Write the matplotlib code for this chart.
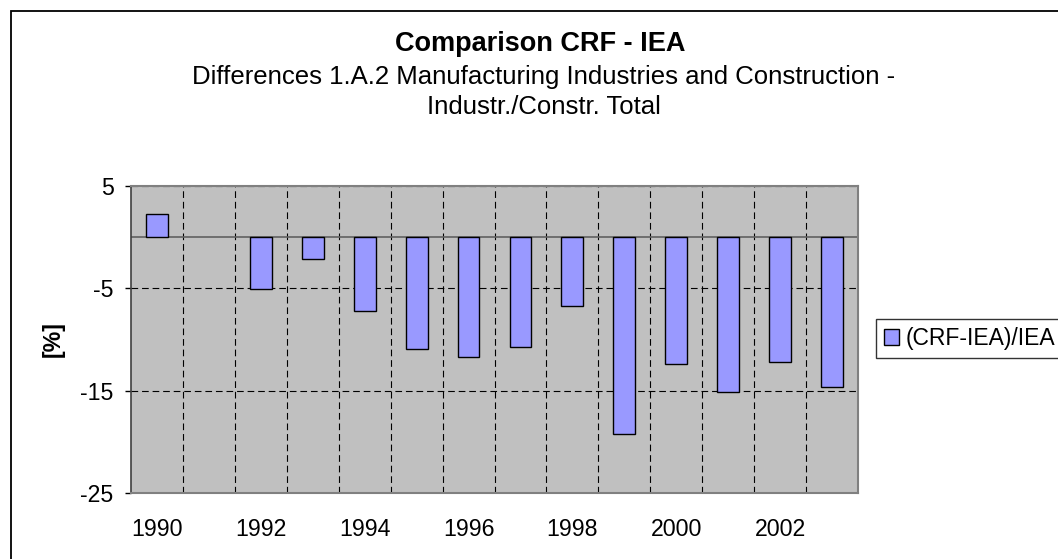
import numpy as np
import matplotlib
matplotlib.use('Agg')
import matplotlib.pyplot as plt
from matplotlib.patches import Rectangle

plt.rcParams['font.family'] = ['Liberation Sans', 'DejaVu Sans']
plt.rcParams['axes.unicode_minus'] = False

years = ['1990', '1991', '1992', '1993', '1994', '1995', '1996',
         '1997', '1998', '1999', '2000', '2001', '2002', '2003']
# 1991 has no value in the chart
diff_pct = [2.3, np.nan, -5.1, -2.15, -7.2, -10.9, -11.7,
            -10.7, -6.75, -19.2, -12.35, -15.1, -12.15, -14.6]
series_label = '(CRF-IEA)/IEA'
title = 'Comparison CRF - IEA'
subtitle = 'Differences 1.A.2 Manufacturing Industries and Construction -\nIndustr./Constr. Total'

W, H = 1058, 559
fig = plt.figure(figsize=(W / 100, H / 100), dpi=100)
ax = fig.add_axes([131 / W, 1 - 493 / H, (858 - 131) / W, (493 - 186) / H])
ax.set_facecolor('#C0C0C0')

x = np.arange(len(years))
ax.bar(x, diff_pct, width=0.42, color='#9999FF', edgecolor='black',
       linewidth=1.0, label=series_label, zorder=3)
ax.axhline(0, color='#606060', linewidth=1.2, zorder=2)

ax.set_xlim(-0.5, len(years) - 0.5)
ax.set_ylim(-25, 5)
ax.set_yticks([-25, -15, -5, 5])
ax.set_xticks(x[::2])
ax.set_xticklabels(years[::2])
ax.set_xticks(x[:-1] + 0.5, minor=True)

ax.tick_params(axis='x', which='both', length=0, pad=18, labelsize=16.7)
ax.tick_params(axis='y', length=4.5, width=1, pad=8, labelsize=16.7, direction='out')

ax.grid(True, axis='y', which='major', color='black', linewidth=0.8,
        linestyle=(0, (6, 3.5)), zorder=1)
ax.grid(True, axis='x', which='minor', color='black', linewidth=0.8,
        linestyle=(0, (6, 3.5)), zorder=1)

for side in ['top', 'right', 'bottom']:
    ax.spines[side].set_color('#808080')
    ax.spines[side].set_linewidth(1.5)
ax.spines['left'].set_color('#404040')
ax.spines['left'].set_linewidth(1.2)

ax.set_ylabel('[%]', fontsize=16.7, fontweight='bold')
ax.yaxis.set_label_coords(-0.091, 0.5)

fig.text(540 / W, 1 - 44 / H, title, ha='center', va='center',
         fontsize=19.5, fontweight='bold')
fig.text(544 / W, 1 - 92 / H, subtitle, ha='center', va='center',
         fontsize=18.5, linespacing=1.32)

ax.legend(loc='center left', bbox_to_anchor=(876 / W, 1 - 338.5 / H),
          bbox_transform=fig.transFigure, frameon=True, fancybox=False,
          edgecolor='black', facecolor='white', fontsize=16.5,
          handlelength=0.65, handleheight=0.65, handletextpad=0.3,
          borderpad=0.35, borderaxespad=0)

# outer chart border (clipped at right and bottom)
fig.add_artist(Rectangle((11 / W, -0.5), 2.0, 1.5 - 11 / H,
                         transform=fig.transFigure, fill=False,
                         edgecolor='black', linewidth=1.3, clip_on=False))

fig.savefig('out.png', dpi=100)
